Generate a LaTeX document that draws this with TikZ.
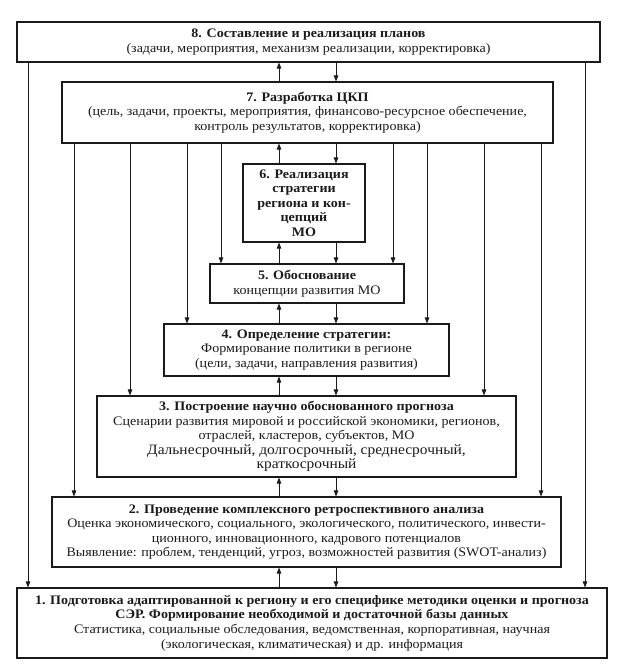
\documentclass[tikz,border=0pt]{standalone}
\usepackage{fontspec}
\setmainfont{Liberation Serif}[FakeStretch=1.08]
\usepackage{xcolor}
\usetikzlibrary{arrows.meta}
\definecolor{ink}{HTML}{1A1A1A}
\tikzset{
  box/.style={draw=ink, line width=1.1pt, align=center, inner sep=1pt,
    font=\fontsize{13}{14.6}\selectfont, text=ink},
  arr/.style={draw=ink, line width=0.8pt, -{Triangle[length=6pt,width=4.5pt]}},
}
\newcommand{\biglines}{\fontsize{14.3}{15.6}\selectfont}

\begin{document}
\begin{tikzpicture}[x=1pt,y=-1pt]
  \useasboundingbox (0,0) rectangle (625,672);
  % columns of the connectors
  \coordinate (up) at (279,0);
  \coordinate (dn) at (336,0);
  \coordinate (c1) at (28,0);
  \coordinate (c2) at (74,0);
  \coordinate (c3) at (130,0);
  \coordinate (c4) at (187,0);
  \coordinate (c5) at (221,0);
  \coordinate (d5) at (393,0);
  \coordinate (d4) at (427,0);
  \coordinate (d3) at (484,0);
  \coordinate (d2) at (541,0);
  \coordinate (d1) at (585,0);
  % boxes
  \node[box, minimum width=583pt, minimum height=40pt] (n8) at (308.5,42)
    {\textbf{8. Составление и реализация планов}\\
     (задачи, мероприятия, механизм реализации, корректировка)};
  \node[box, minimum width=491pt, minimum height=61pt] (n7) at (307.5,112.5)
    {\textbf{7. Разработка ЦКП}\\
     (цель, задачи, проекты, мероприятия, финансово-ресурсное обеспечение,\\
     контроль результатов, корректировка)};
  \node[box, minimum width=122pt, minimum height=78pt] (n6) at (304,203)
    {\textbf{6. Реализация}\\\textbf{стратегии}\\\textbf{региона и кон-}\\
     \textbf{цепций}\\\textbf{МО}};
  \node[box, minimum width=194pt, minimum height=39pt] (n5) at (307,283.5)
    {\textbf{5. Обоснование}\\концепции развития МО};
  \node[box, minimum width=285pt, minimum height=52pt] (n4) at (306.5,350)
    {\textbf{4. Определение стратегии:}\\
     Формирование политики в регионе\\
     (цели, задачи, направления развития)};
  \node[box, minimum width=419pt, minimum height=81pt] (n3) at (306.5,436.5)
    {\textbf{3. Построение научно обоснованного прогноза}\\
     Сценарии развития мировой и российской экономики, регионов,\\
     отраслей, кластеров, субъектов, МО\\
     {\biglines Дальнесрочный, долгосрочный, среднесрочный,}\\
     {\biglines краткосрочный}};
  \node[box, minimum width=509pt, minimum height=70pt] (n2) at (306.5,532)
    {\textbf{2. Проведение комплексного ретроспективного анализа}\\
     Оценка экономического, социального, экологического, политического, инвести-\\
     ционного, инновационного, кадрового потенциалов\\
     Выявление: проблем, тенденций, угроз, возможностей развития (SWOT-анализ)};
  \node[box, minimum width=590pt, minimum height=70pt] (n1) at (312,623)
    {\textbf{1. Подготовка адаптированной к региону и его специфике методики оценки и прогноза}\\
     \textbf{СЭР. Формирование необходимой и достаточной базы данных}\\
     Статистика, социальные обследования, ведомственная, корпоративная, научная\\
     (экологическая, климатическая) и др. информация};
  % chain up and down
  \foreach \lo/\hi in {n7/n8, n6/n7, n5/n6, n4/n5, n3/n4, n2/n3, n1/n2} {
    \draw[arr] (\lo.north -| up) -- (\hi.south -| up);
    \draw[arr] (\hi.south -| dn) -- (\lo.north -| dn);
  }
  % links from 7 down
  \draw[arr] (n7.south -| c5) -- (n5.north -| c5);
  \draw[arr] (n7.south -| d5) -- (n5.north -| d5);
  \draw[arr] (n7.south -| c4) -- (n4.north -| c4);
  \draw[arr] (n7.south -| d4) -- (n4.north -| d4);
  \draw[arr] (n7.south -| c3) -- (n3.north -| c3);
  \draw[arr] (n7.south -| d3) -- (n3.north -| d3);
  \draw[arr] (n7.south -| c2) -- (n2.north -| c2);
  \draw[arr] (n7.south -| d2) -- (n2.north -| d2);
  % links from 8 down
  \draw[arr] (n8.south -| c1) -- (n1.north -| c1);
  \draw[arr] (n8.south -| d1) -- (n1.north -| d1);
\end{tikzpicture}
\end{document}
